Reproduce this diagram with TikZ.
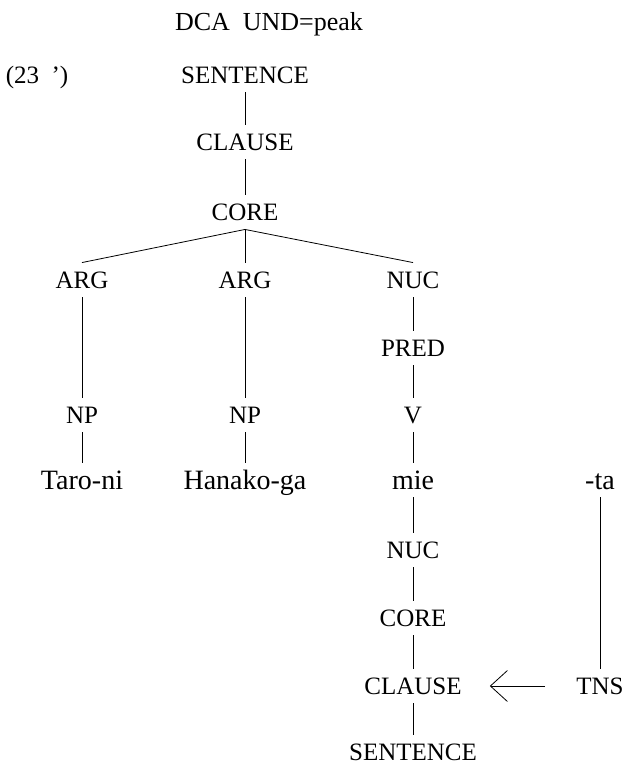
\documentclass[tikz,border=0pt]{standalone}
\usepackage{fontspec}
\setmainfont{Liberation Serif}
\usetikzlibrary{arrows.meta}
\begin{document}
\begin{tikzpicture}[x=1pt,y=-1pt,
  cat/.style={font=\fontsize{25}{29}\selectfont, inner xsep=0pt, inner ysep=9pt, text height=16.5pt, text depth=0pt},
  word/.style={font=\fontsize{28}{32}\selectfont, inner xsep=0pt, inner ysep=8pt, text height=18.5pt, text depth=0pt},
  branch/.style={line width=0.8pt},
]
\useasboundingbox (0,0) rectangle (626,766);

% heading and example number
\node[cat, font=\fontsize{26}{30}\selectfont] (head) at (269,22) {DCA\ \ UND=peak};
\node[cat] (num) at (37,75) {(23\ \ ’)};

% upper tree
\node[cat] (s1) at (245,75) {SENTENCE};
\node[cat] (cl1) at (245,142) {CLAUSE};
\node[cat] (co1) at (245,212) {CORE};
\node[cat] (arg1) at (82,280) {ARG};
\node[cat] (arg2) at (245,280) {ARG};
\node[cat] (nuc1) at (413,280) {NUC};
\node[cat] (pred) at (413,348) {PRED};
\node[cat] (np1) at (82,415) {NP};
\node[cat] (np2) at (245,415) {NP};
\node[cat] (v) at (413,415) {V};

% words
\node[word] (taro) at (82,480) {Taro-ni};
\node[word] (hanako) at (245,480) {Hanako-ga};
\node[word] (mie) at (413,480) {mie};
\node[word] (ta) at (600,480) {-ta};

% lower tree
\node[cat] (nuc2) at (413,550) {NUC};
\node[cat] (co2) at (413,618) {CORE};
\node[cat] (cl2) at (413,686) {CLAUSE};
\node[cat] (s2) at (413,752) {SENTENCE};
\node[cat] (tns) at (600,686) {TNS};

% branches
\draw[branch] (s1.south) -- (cl1.north);
\draw[branch] (cl1.south) -- (co1.north);
\draw[branch] (co1.south) -- (arg1.north);
\draw[branch] (co1.south) -- (arg2.north);
\draw[branch] (co1.south) -- (nuc1.north);
\draw[branch] (arg1.south) -- (np1.north);
\draw[branch] (arg2.south) -- (np2.north);
\draw[branch] (nuc1.south) -- (pred.north);
\draw[branch] (pred.south) -- (v.north);
\draw[branch] (np1.south) -- (taro.north);
\draw[branch] (np2.south) -- (hanako.north);
\draw[branch] (v.south) -- (mie.north);
\draw[branch] (mie.south) -- (nuc2.north);
\draw[branch] (nuc2.south) -- (co2.north);
\draw[branch] (co2.south) -- (cl2.north);
\draw[branch] (cl2.south) -- (s2.north);
\draw[branch] (ta.south) -- (tns.north);

% operator linkage
\draw[branch, -{Straight Barb[length=17pt,width=31pt]}, shorten <=31pt, shorten >=28pt]
  (tns.west) -- (cl2.east);
\end{tikzpicture}
\end{document}
